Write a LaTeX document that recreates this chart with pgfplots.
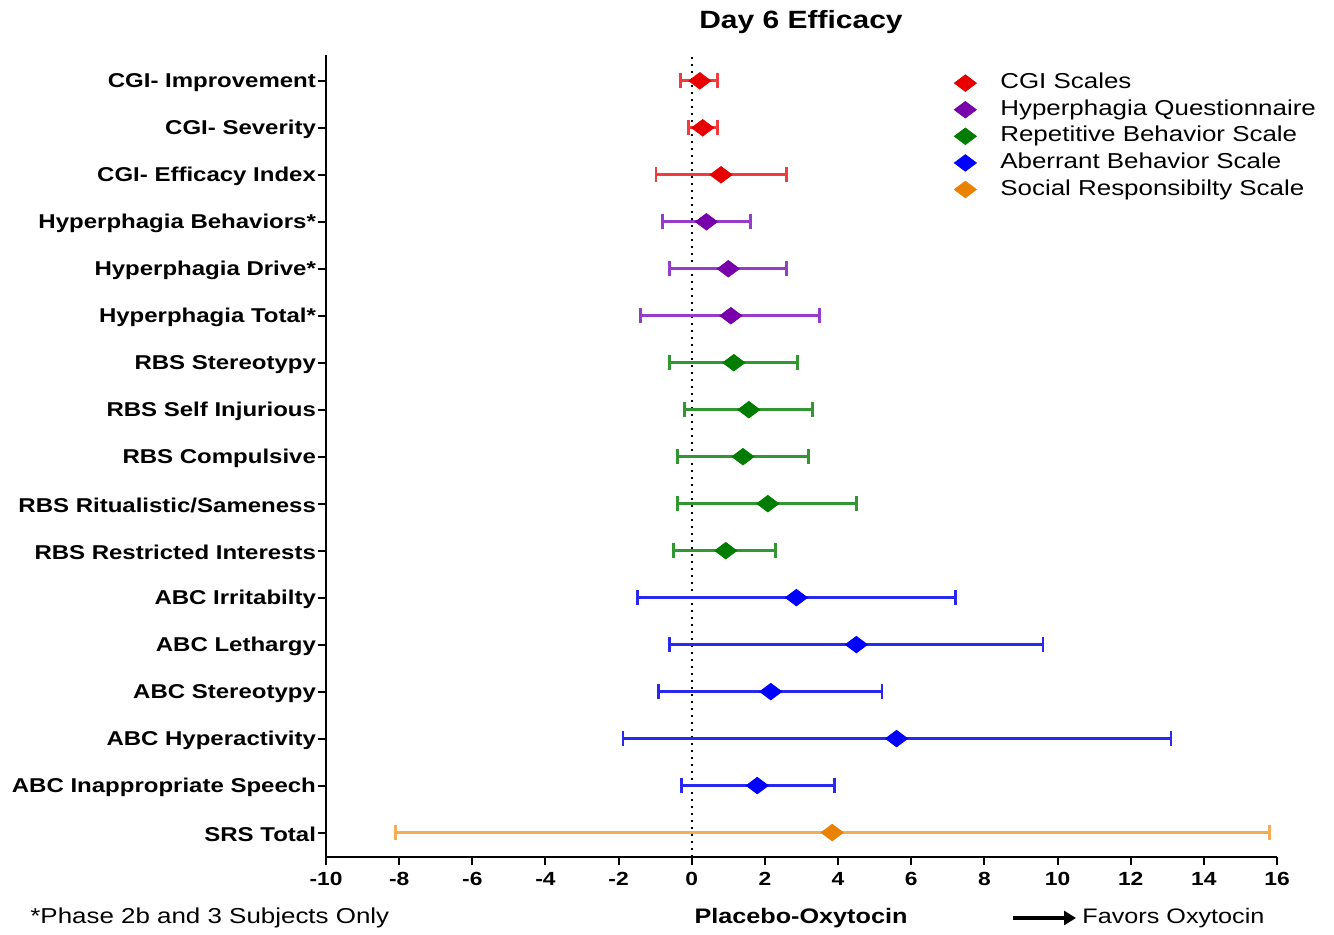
\documentclass[border=0pt]{standalone}
\usepackage{pgfplots}
\pgfplotsset{compat=1.18}
\usepackage{pgfplotstable}
\usetikzlibrary{arrows.meta}
\usepackage{fontspec}
\setmainfont{Liberation Sans}[FakeStretch=1.2]
\definecolor{cgiM}{RGB}{230,0,0}
\definecolor{cgiB}{RGB}{240,60,60}
\definecolor{hypM}{RGB}{120,0,170}
\definecolor{hypB}{RGB}{150,60,200}
\definecolor{rbsM}{RGB}{0,125,0}
\definecolor{rbsB}{RGB}{50,150,50}
\definecolor{abcM}{RGB}{0,0,255}
\definecolor{abcB}{RGB}{40,40,240}
\definecolor{srsM}{RGB}{232,130,0}
\definecolor{srsB}{RGB}{245,172,85}

\pgfplotstableread{
y m lo hi
17 0.22 -0.30 0.70
16 0.30 -0.10 0.70
15 0.80 -0.98 2.60
}\cgi
\pgfplotstableread{
y m lo hi
14 0.40 -0.80 1.60
13 1.00 -0.60 2.60
12 1.07 -1.40 3.50
}\hyp
\pgfplotstableread{
y m lo hi
11 1.15 -0.60 2.90
10 1.56 -0.20 3.30
9 1.40 -0.38 3.20
8 2.08 -0.38 4.50
7 0.93 -0.50 2.30
}\rbs
\pgfplotstableread{
y m lo hi
6 2.86 -1.49 7.20
5 4.50 -0.60 9.60
4 2.16 -0.90 5.20
3 5.60 -1.88 13.10
2 1.79 -0.29 3.90
}\abc
\pgfplotstableread{
y m lo hi
1 3.84 -8.10 15.80
}\srs

\pgfplotsset{
  ebar/.style n args={2}{only marks, line width=1.4pt, mark=diamond*, mark size=5.5pt,
    mark options={rotate=90, #1, fill=#1, line width=0.4pt},
    error bars/.cd, x dir=both, x explicit, error mark=|,
    error bar style={line width=1.4pt, #2},
    error mark options={line width=1.4pt, mark size=3.8pt, #2}},
}

\begin{document}
\begin{tikzpicture}
\path (0,0) rectangle (667pt,467.5pt);
\begin{axis}[
  at={(163pt,39pt)}, anchor=south west,
  scale only axis, width=475.5pt, height=401pt,
  xmin=-10, xmax=16, ymin=0.48, ymax=17.55,
  axis x line*=bottom, axis y line*=left,
  x axis line style={-, line width=1pt},
  y axis line style={-, line width=1pt},
  xtick={-10,-8,...,16},
  ytick={1,...,17},
  yticklabels={SRS Total, ABC Inappropriate Speech, ABC Hyperactivity, ABC Stereotypy, ABC Lethargy, ABC Irritabilty, RBS Restricted Interests, RBS Ritualistic/Sameness, RBS Compulsive, RBS Self Injurious, RBS Stereotypy, Hyperphagia Total*, Hyperphagia Drive*, Hyperphagia Behaviors*, CGI- Efficacy Index, CGI- Severity, CGI- Improvement},
  tick align=outside, major tick length=4pt,
  every tick/.style={black, line width=1pt},
  /pgf/number format/assume math mode=true,
  x tick label style={font=\bfseries\fontsize{9.5}{11}\selectfont},
  y tick label style={font=\bfseries\fontsize{10}{12}\selectfont, xshift=2.5pt, yshift=-0.8pt},
  legend style={draw=none, fill=none, at={(0.654,0.986)}, anchor=north west,
    font=\fontsize{10.8}{12}\selectfont, row sep=0.8pt,
    nodes={inner sep=1pt, text height=8pt, text depth=2.5pt},
    /tikz/every odd column/.append style={column sep=11pt}},
  legend cell align=left,
  clip=false,
]
\addplot[black, line width=1.1pt, dash pattern=on 1pt off 2.5pt, forget plot] coordinates {(0,0.48) (0,17.55)};
\addplot[ebar={cgiM}{cgiB}] table[x=m, y=y, x error plus expr=\thisrow{hi}-\thisrow{m}, x error minus expr=\thisrow{m}-\thisrow{lo}] {\cgi};
\addlegendentry{CGI Scales}
\addplot[ebar={hypM}{hypB}] table[x=m, y=y, x error plus expr=\thisrow{hi}-\thisrow{m}, x error minus expr=\thisrow{m}-\thisrow{lo}] {\hyp};
\addlegendentry{Hyperphagia Questionnaire}
\addplot[ebar={rbsM}{rbsB}] table[x=m, y=y, x error plus expr=\thisrow{hi}-\thisrow{m}, x error minus expr=\thisrow{m}-\thisrow{lo}] {\rbs};
\addlegendentry{Repetitive Behavior Scale}
\addplot[ebar={abcM}{abcB}] table[x=m, y=y, x error plus expr=\thisrow{hi}-\thisrow{m}, x error minus expr=\thisrow{m}-\thisrow{lo}] {\abc};
\addlegendentry{Aberrant Behavior Scale}
\addplot[ebar={srsM}{srsB}] table[x=m, y=y, x error plus expr=\thisrow{hi}-\thisrow{m}, x error minus expr=\thisrow{m}-\thisrow{lo}] {\srs};
\addlegendentry{Social Responsibilty Scale}
\end{axis}
\node[font=\bfseries\fontsize{12.5}{14}\selectfont] at (400.5pt,456.5pt) {Day 6 Efficacy};
\node[anchor=west, inner sep=0pt, font=\fontsize{10.8}{12}\selectfont] at (15pt,8.5pt) {*Phase 2b and 3 Subjects Only};
\node[font=\bfseries\fontsize{10.5}{12}\selectfont] at (400.5pt,8.5pt) {Placebo-Oxytocin};
\draw[line width=2pt, -{Triangle[length=6pt,width=7pt]}] (506.5pt,8.5pt) -- (538pt,8.5pt);
\node[anchor=west, inner sep=0pt, font=\fontsize{10.5}{12}\selectfont] at (541pt,8.5pt) {Favors Oxytocin};
\end{tikzpicture}
\end{document}
